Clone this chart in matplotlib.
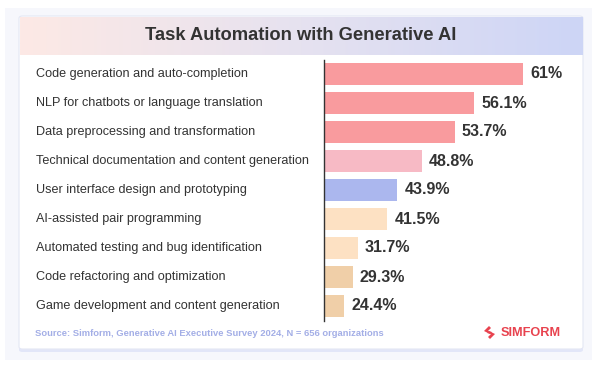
import numpy as np
import matplotlib.pyplot as plt
import matplotlib.transforms as mtransforms
from matplotlib.colors import LinearSegmentedColormap
from matplotlib.patches import FancyBboxPatch, Rectangle, Polygon

# data
tasks = [
    'Code generation and auto-completion',
    'NLP for chatbots or language translation',
    'Data preprocessing and transformation',
    'Technical documentation and content generation',
    'User interface design and prototyping',
    'AI-assisted pair programming',
    'Automated testing and bug identification',
    'Code refactoring and optimization',
    'Game development and content generation',
]
values = [61, 56.1, 53.7, 48.8, 43.9, 41.5, 31.7, 29.3, 24.4]
value_labels = ['61%', '56.1%', '53.7%', '48.8%', '43.9%', '41.5%', '31.7%', '29.3%', '24.4%']
bar_colors = ['#f99b9e', '#f99b9e', '#f99b9e', '#f7bac5', '#abb7ee',
              '#fde1c3', '#fde1c3', '#f0cfa8', '#f0cfa8']

title = 'Task Automation with Generative AI'
source = 'Source: Simform, Generative AI Executive Survey 2024, N = 656 organizations'

plt.rcParams['font.family'] = ['Liberation Sans', 'DejaVu Sans']

W, H = 600, 368
fig = plt.figure(figsize=(6, 3.68), dpi=100)
fig.patch.set_facecolor('white')


def box(x, y, w, h):
    # pixel box measured from the top-left -> figure fraction rect
    return [x / W, 1 - (y + h) / H, w / W, h / H]


def pt(x, y):
    return (x / W, 1 - y / H)


# outer panel, shadow and card
fig.add_artist(Rectangle(pt(5, 360), 587 / W, 352 / H, transform=fig.transFigure,
                         facecolor='#f6f7fc', edgecolor='none', zorder=0))
fig.add_artist(FancyBboxPatch(pt(19, 352), 564 / W, 334 / H, transform=fig.transFigure,
                              boxstyle='round,pad=0,rounding_size=0.006',
                              facecolor='#e2e6f8', edgecolor='none', zorder=1))
fig.add_artist(FancyBboxPatch(pt(19, 349), 564 / W, 333 / H, transform=fig.transFigure,
                              boxstyle='round,pad=0,rounding_size=0.006',
                              facecolor='white', edgecolor='#e4e7f4', linewidth=0.8, zorder=2))

# header gradient
hax = fig.add_axes(box(19.5, 16.5, 563, 39), zorder=3)
cmap = LinearSegmentedColormap.from_list('hdr', ['#fde9e5', '#e6e2f0', '#cdd5f6'])
hax.imshow(np.linspace(0, 1, 256).reshape(1, -1), aspect='auto', cmap=cmap,
           extent=(0, 1, 0, 1))
hax.set_axis_off()
fig.text(*pt(301, 36), title, ha='center', va='center', fontsize=13.2,
         fontweight='bold', color='#333333', zorder=5)

# bars (the source chart does not draw bars to a linear scale)
ax = fig.add_axes(box(324, 59.5, 236, 261), zorder=4)
ax.patch.set_alpha(0)
k = 0.055
ax.set_xscale('function', functions=(lambda v: np.exp(k * np.asarray(v)),
                                     lambda t: np.log(np.clip(t, 1e-9, None)) / k))
ypos = np.arange(len(values))
ax.barh(ypos, values, height=0.76, left=0, color=bar_colors, zorder=2)
f61 = np.exp(k * max(values))
xmax = np.log(1 + (f61 - 1) * 236 / 199) / k
ax.set_xlim(0, xmax)
ax.set_ylim(len(values) - 0.5, -0.5)
for s in ['top', 'right', 'bottom']:
    ax.spines[s].set_visible(False)
ax.spines['left'].set_color('#333333')
ax.spines['left'].set_linewidth(1)
ax.set_xticks([])
ax.set_yticks([])
ax.xaxis.set_minor_locator(plt.NullLocator())

for i, (v, lab) in enumerate(zip(values, value_labels)):
    ax.annotate(lab, xy=(v, i), xytext=(7, 0), textcoords='offset pixels',
                ha='left', va='center', fontsize=11.5, fontweight='bold',
                color='#333333', annotation_clip=False)

trans = mtransforms.blended_transform_factory(fig.transFigure, ax.transData)
for i, t in enumerate(tasks):
    ax.text(36 / W, i, t, transform=trans, ha='left', va='center',
            fontsize=9.1, color='#333333', clip_on=False)

# footer
fig.text(*pt(35, 333), source, ha='left', va='center', fontsize=6.75,
         fontweight='bold', color='#a3aee6', zorder=5)
red = '#e8434f'
icon_a = [(489, 326), (484, 331), (490, 334), (492, 332), (488, 331), (491, 328)]
icon_b = [(490, 339), (495, 334), (489, 331), (487, 333), (491, 334), (488, 337)]
for poly in (icon_a, icon_b):
    fig.add_artist(Polygon([pt(x, y) for x, y in poly], closed=True,
                           transform=fig.transFigure, facecolor=red,
                           edgecolor='none', zorder=5))
fig.text(*pt(501, 332.5), 'SIMFORM', ha='left', va='center', fontsize=9.2,
         fontweight='bold', color=red, zorder=5)

fig.savefig('out.png', dpi=100)
